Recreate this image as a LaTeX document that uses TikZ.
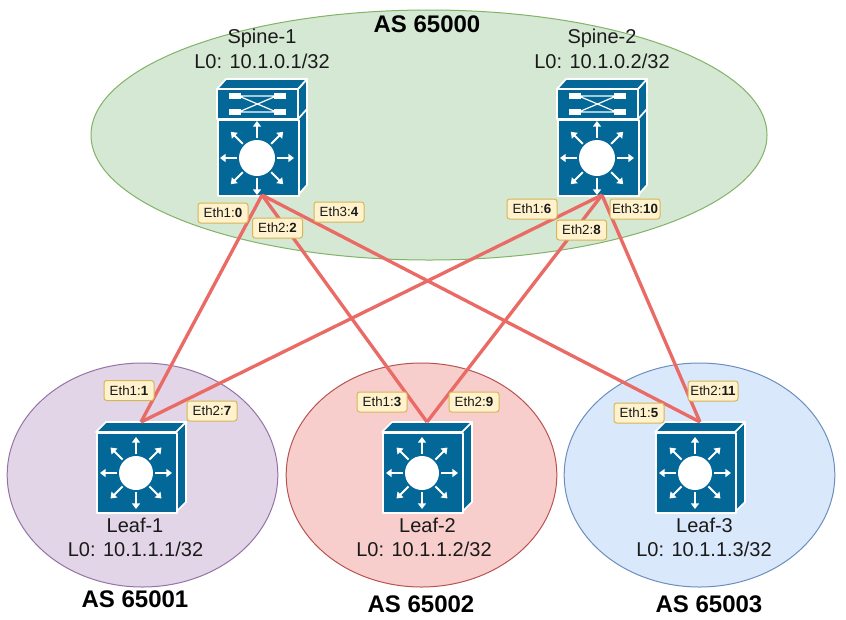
\documentclass[tikz,border=0pt]{standalone}
\usepackage{fontspec}
\setmainfont{Liberation Sans}
\usetikzlibrary{arrows.meta,shapes.geometric}
\definecolor{devblue}{HTML}{036897}
\definecolor{linkred}{HTML}{EA6B66}
\definecolor{txt}{HTML}{1A1A1A}
\definecolor{labelfill}{HTML}{FFF2CC}
\definecolor{labelline}{HTML}{D6B656}
\definecolor{greenf}{HTML}{D5E8D4}
\definecolor{greend}{HTML}{82B366}
\definecolor{purplef}{HTML}{E1D5E7}
\definecolor{purpled}{HTML}{9673A6}
\definecolor{redf}{HTML}{F8CECC}
\definecolor{redd}{HTML}{B85450}
\definecolor{bluef}{HTML}{DAE8FC}
\definecolor{blued}{HTML}{6C8EBF}
\tikzset{
  x=0.75pt,y=-0.75pt,
  asarea/.style={ellipse,inner sep=0pt,line width=0.75pt},
  leafarea/.style={asarea,minimum width=203pt,minimum height=168pt},
  devface/.style={fill=devblue,draw=white,line width=1.3pt,line join=round},
  whitearrow/.style={draw=white,line width=1.5pt,-{Triangle[width=6pt,length=4.2pt]}},
  portlabel/.style={draw=labelline,fill=labelfill,rounded corners=2pt,line width=0.75pt,minimum width=37.5pt,minimum height=15pt,inner sep=0pt,font=\fontsize{10}{12}\selectfont,text=txt},
  link/.style={draw=linkred,line width=2.5pt},
  devlabel/.style={font=\fontsize{15}{18}\selectfont,text=txt,inner sep=0pt},
  asname/.style={font=\fontsize{18}{22}\selectfont\bfseries,text=black,inner sep=0pt},
  arrowstar/.pic={
    \fill[white] (0,0) circle [radius=#1*0.75pt];
    \foreach \a in {0,45,...,315}{
      \draw[whitearrow] (\a:{(#1+2)*0.75pt}) -- (\a:{(#1+19)*0.75pt});
    }
  },
  spinedev/.pic={
    \draw[devface] (81,0) -- (90,-10) -- (90,96) -- (81,106) -- cycle;
    \draw[devface] (0,0) -- (9,-10) -- (90,-10) -- (81,0) -- cycle;
    \draw[devface] (81,30) -- (90,20);
    \draw[devface] (0,0) rectangle (81,30);
    \node[devface,rectangle,minimum width=60.75pt,minimum height=57pt,inner sep=0pt,anchor=north west] (-body) at (0,30) {};
    \coordinate (-foot) at (45,106);
    \pic at (40,69) {arrowstar=18};
    \fill[white] (12,4) rectangle (24,10);
    \fill[white] (57,4) rectangle (69,10);
    \fill[white] (12,20) rectangle (24,26);
    \fill[white] (57,20) rectangle (69,26);
    \draw[white,line width=0.9pt] (24,7) -- (57,7) (24,23) -- (57,23) (24,8) -- (57,22) (24,22) -- (57,8);
  },
  leafdev/.pic={
    \draw[devface] (80,0) -- (90,-10) -- (90,70) -- (80,80) -- cycle;
    \draw[devface] (0,0) -- (10,-10) -- (90,-10) -- (80,0) -- cycle;
    \node[devface,rectangle,minimum width=60pt,minimum height=60pt,inner sep=0pt,anchor=north west] (-body) at (0,0) {};
    \coordinate (-top) at (45,-10);
    \pic at (40,41) {arrowstar=17};
  },
}
\newcommand{\portlab}[4]{\node[portlabel] (#1) at (#2) {Eth#3:\textbf{#4}};}
\begin{document}
\begin{tikzpicture}
\useasboundingbox (0,0) rectangle (846,619);
\fill[white] (0,0) rectangle (846,619);
% AS areas
\node[asarea,draw=greend,fill=greenf,minimum width=507pt,minimum height=187.5pt] (as0) at (429,135) {};
\node[leafarea,draw=purpled,fill=purplef] (as1) at (142.5,475) {};
\node[leafarea,draw=redd,fill=redf] (as2) at (421.5,475) {};
\node[leafarea,draw=blued,fill=bluef] (as3) at (699.5,475) {};
% devices
\pic (s1) at (217,89) {spinedev};
\pic (s2) at (557,89) {spinedev};
\pic (l1) at (96,432) {leafdev};
\pic (l2) at (382,432) {leafdev};
\pic (l3) at (655,432) {leafdev};
% links
\draw[link] (s1-foot) -- (l1-top);
\draw[link] (s1-foot) -- (l2-top);
\draw[link] (s1-foot) -- (l3-top);
\draw[link] (s2-foot) -- (l1-top);
\draw[link] (s2-foot) -- (l2-top);
\draw[link] (s2-foot) -- (l3-top);
% texts
\node[devlabel] (s1n) at (262,38) {Spine-1};
\node[devlabel] (s1a) at (262,61) {L0: 10.1.0.1/32};
\node[devlabel] (s2n) at (602,38) {Spine-2};
\node[devlabel] (s2a) at (602,61) {L0: 10.1.0.2/32};
\node[devlabel] (l1n) at (135,525) {Leaf-1};
\node[devlabel] (l1a) at (135.5,549) {L0: 10.1.1.1/32};
\node[devlabel] (l2n) at (427.5,525) {Leaf-2};
\node[devlabel] (l2a) at (424,549) {L0: 10.1.1.2/32};
\node[devlabel] (l3n) at (704.5,525) {Leaf-3};
\node[devlabel] (l3a) at (704,549) {L0: 10.1.1.3/32};
\node[asname] (n0) at (427,24) {AS 65000};
\node[asname] (n1) at (135,599) {AS 65001};
\node[asname] (n2) at (421,604) {AS 65002};
\node[asname] (n3) at (709,604) {AS 65003};
% port labels
\portlab{p0}{223,213}{1}{0}
\portlab{p2}{277.5,228}{2}{2}
\portlab{p4}{339,212}{3}{4}
\portlab{p6}{532,209}{1}{6}
\portlab{p8}{581.5,230}{2}{8}
\portlab{p10}{635,209}{3}{10}
\portlab{p1}{129,390.5}{1}{1}
\portlab{p7}{212,411}{2}{7}
\portlab{p3}{382,402}{1}{3}
\portlab{p9}{474,402}{2}{9}
\portlab{p5}{639,413}{1}{5}
\portlab{p11}{713,391}{2}{11}
\end{tikzpicture}
\end{document}
